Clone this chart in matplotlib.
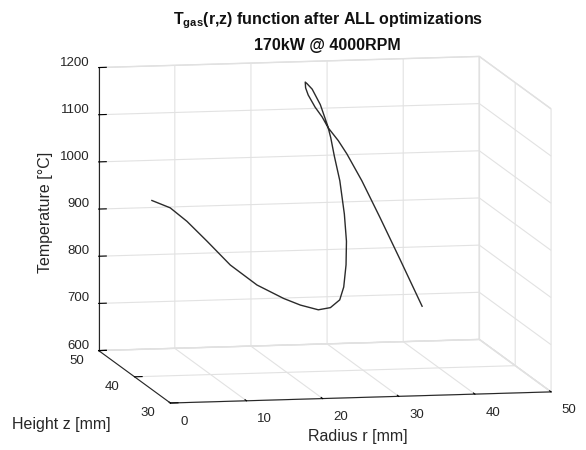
import matplotlib
matplotlib.use("Agg")
import matplotlib.pyplot as plt
from matplotlib.transforms import IdentityTransform
from mpl_toolkits.mplot3d import proj3d

# --- data (path order) ---
radius_mm = [0.87, 3.46, 5.85, 8.71, 12.01, 15.76, 19.49, 21.93, 24.52, 26.34,
             27.80, 28.56, 29.10, 29.39, 29.35, 28.99, 28.50, 28.27, 28.11, 27.37,
             26.49, 25.97, 25.86, 26.05, 26.53, 27.58, 28.65, 29.58, 31.00, 32.23,
             34.29, 36.79, 39.51, 42.48]
height_mm = [37.0, 37.4, 37.8, 38.3, 38.8, 39.3, 39.8, 40.3, 40.8, 41.3,
             41.8, 42.3, 42.8, 43.3, 43.8, 44.3, 44.8, 45.3, 45.8, 46.3,
             46.7, 47.0, 47.3, 47.6, 47.9, 48.2, 48.5, 48.8, 49.0, 49.2,
             49.4, 49.6, 49.8, 50.0]
temp_c = [990, 971, 939, 893, 838, 791, 758, 740, 726, 727,
          740, 764, 808, 855, 910, 978, 1028, 1064, 1086, 1129,
          1160, 1170, 1172, 1158, 1141, 1113, 1090, 1065, 1036, 1006,
          947, 866, 775, 674]

r_ticks = [0, 10, 20, 30, 40, 50]
z_ticks = [30, 40, 50]
t_ticks = [600, 700, 800, 900, 1000, 1100, 1200]

plt.rcParams["font.family"] = ["Liberation Sans", "DejaVu Sans"]
plt.rcParams["mathtext.fontset"] = "custom"
plt.rcParams["mathtext.bf"] = "Liberation Sans:bold"
plt.rcParams["mathtext.rm"] = "Liberation Sans"
plt.rcParams["grid.color"] = "#e2e2e2"
plt.rcParams["grid.linewidth"] = 0.8

TEXT = "#262626"
TICK_FS = 9.5

fig = plt.figure(figsize=(5.86, 4.5), dpi=100)
ax = fig.add_axes([0.044, -0.024, 1.0, 1.0], projection="3d", proj_type="ortho")
ax.set_box_aspect((384, 362, 283), zoom=1.306)
ax.view_init(elev=8.4, azim=-101.3)

ax.plot(radius_mm, height_mm, temp_c, color="#2b2b2b", linewidth=1.0)

ax.set_xlim(0, 50)
ax.set_ylim(30, 50)
ax.set_zlim(600, 1200)
ax.set_xticks(r_ticks)
ax.set_yticks(z_ticks)
ax.set_zticks(t_ticks)
ax.set_xticklabels([])
ax.set_yticklabels([])
ax.set_zticklabels([])

for axis in (ax.xaxis, ax.yaxis, ax.zaxis):
    axis.set_pane_color((1, 1, 1, 1))
    axis.pane.set_edgecolor("#dcdcdc")
    axis.line.set_color(TEXT)
    axis.line.set_linewidth(0.8)
    axis._axinfo["tick"]["inward_factor"] = 0.0
    axis._axinfo["tick"]["outward_factor"] = 0.25
    axis._axinfo["tick"]["color"] = TEXT
ax.grid(True)

# tick labels: project each tick through the 3D view, then offset in pixels
fig.canvas.draw()
proj = ax.get_proj()


def tick_label(x, y, z, s, dx, dy, ha):
    xs, ys, _ = proj3d.proj_transform(x, y, z, proj)
    px, py = ax.transData.transform((xs, ys))
    fig.text(px + dx, py + dy, s, transform=IdentityTransform(), ha=ha, va="center",
             fontsize=TICK_FS, color=TEXT)


for r in r_ticks:
    tick_label(r, 30, 600, str(r), 10.5, -18.5, "left")
for zz in z_ticks:
    tick_label(0, zz, 600, str(zz), -15, -10, "right")
for t in t_ticks:
    tick_label(0, 50, t, str(t), -9, 5, "right")

fig.text(0.559, 0.955, r"$\mathbf{T}_{\mathbf{gas}}$(r,z) function after ALL optimizations",
         ha="center", va="center", fontsize=11.5, fontweight="bold", color="#111111")
fig.text(0.559, 0.898, "170kW @ 4000RPM", ha="center", va="center",
         fontsize=11.5, fontweight="bold", color="#111111")
fig.text(0.077, 0.527, "Temperature [°C]", rotation=90, ha="center", va="center",
         fontsize=11.5, color=TEXT)
fig.text(0.104, 0.056, "Height z [mm]", ha="center", va="center",
         fontsize=11.5, color=TEXT)
fig.text(0.61, 0.031, "Radius r [mm]", ha="center", va="center",
         fontsize=11.5, color=TEXT)

fig.savefig("out.png", dpi=100)
